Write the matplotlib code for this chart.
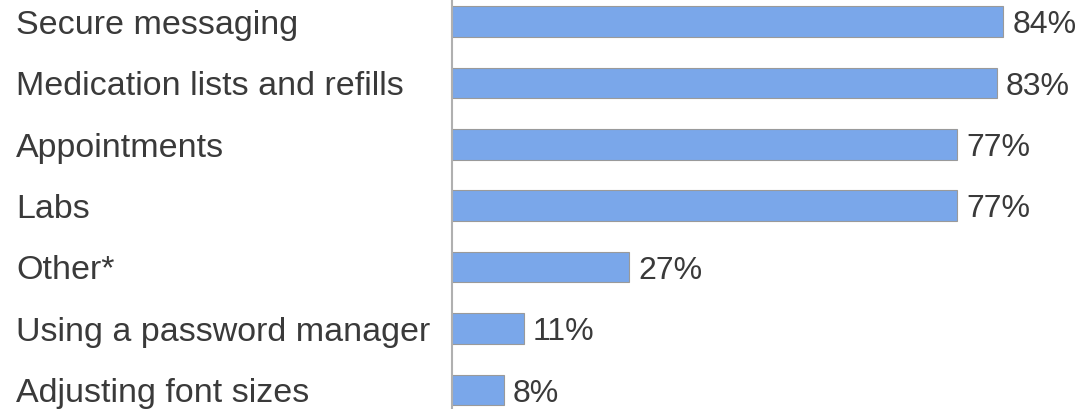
import matplotlib
matplotlib.use("Agg")
import matplotlib.pyplot as plt
import matplotlib.transforms as mtransforms

categories = ["Secure messaging", "Medication lists and refills", "Appointments",
              "Labs", "Other*", "Using a password manager", "Adjusting font sizes"]
values = [84, 83, 77, 77, 27, 11, 8]
value_labels = ["84%", "83%", "77%", "77%", "27%", "11%", "8%"]

plt.rcParams['font.family'] = ['Liberation Sans', 'DejaVu Sans']

W, H, DPI = 1081, 409, 100
fig = plt.figure(figsize=(W / DPI, H / DPI), dpi=DPI)
x0 = 451.5
pxper = 6.57
xmax = 95
ax = fig.add_axes([x0 / W, 0, xmax * pxper / W, 1])

y = list(range(len(categories)))
ax.barh(y, values, height=0.5, color="#7aa7ea", edgecolor="#9a9a9a", linewidth=0.8, zorder=2)
ax.set_xlim(0, xmax)
ax.set_ylim(6.31, -0.35)

for s in ["top", "right", "bottom"]:
    ax.spines[s].set_visible(False)
ax.spines["left"].set_color("#b0b0b0")
ax.spines["left"].set_linewidth(1.5)
ax.spines["left"].set_zorder(3)
ax.set_xticks([])
ax.set_yticks([])

px = 72 / DPI  # points per pixel
lab_tr = mtransforms.offset_copy(
    mtransforms.blended_transform_factory(fig.transFigure, ax.transData),
    fig=fig, x=0, y=-12.3 * px, units="points")
for yi, c in zip(y, categories):
    ax.text(16 / W, yi, c, transform=lab_tr, ha="left", va="baseline",
            fontsize=34 * px, color="#3a3a3a")

val_tr = mtransforms.offset_copy(ax.transData, fig=fig, x=9 * px, y=-11.7 * px, units="points")
for yi, v, t in zip(y, values, value_labels):
    ax.text(v, yi, t, transform=val_tr, ha="left", va="baseline",
            fontsize=32 * px, color="#3a3a3a", clip_on=False)

fig.savefig("out.png", dpi=DPI, facecolor="white")
